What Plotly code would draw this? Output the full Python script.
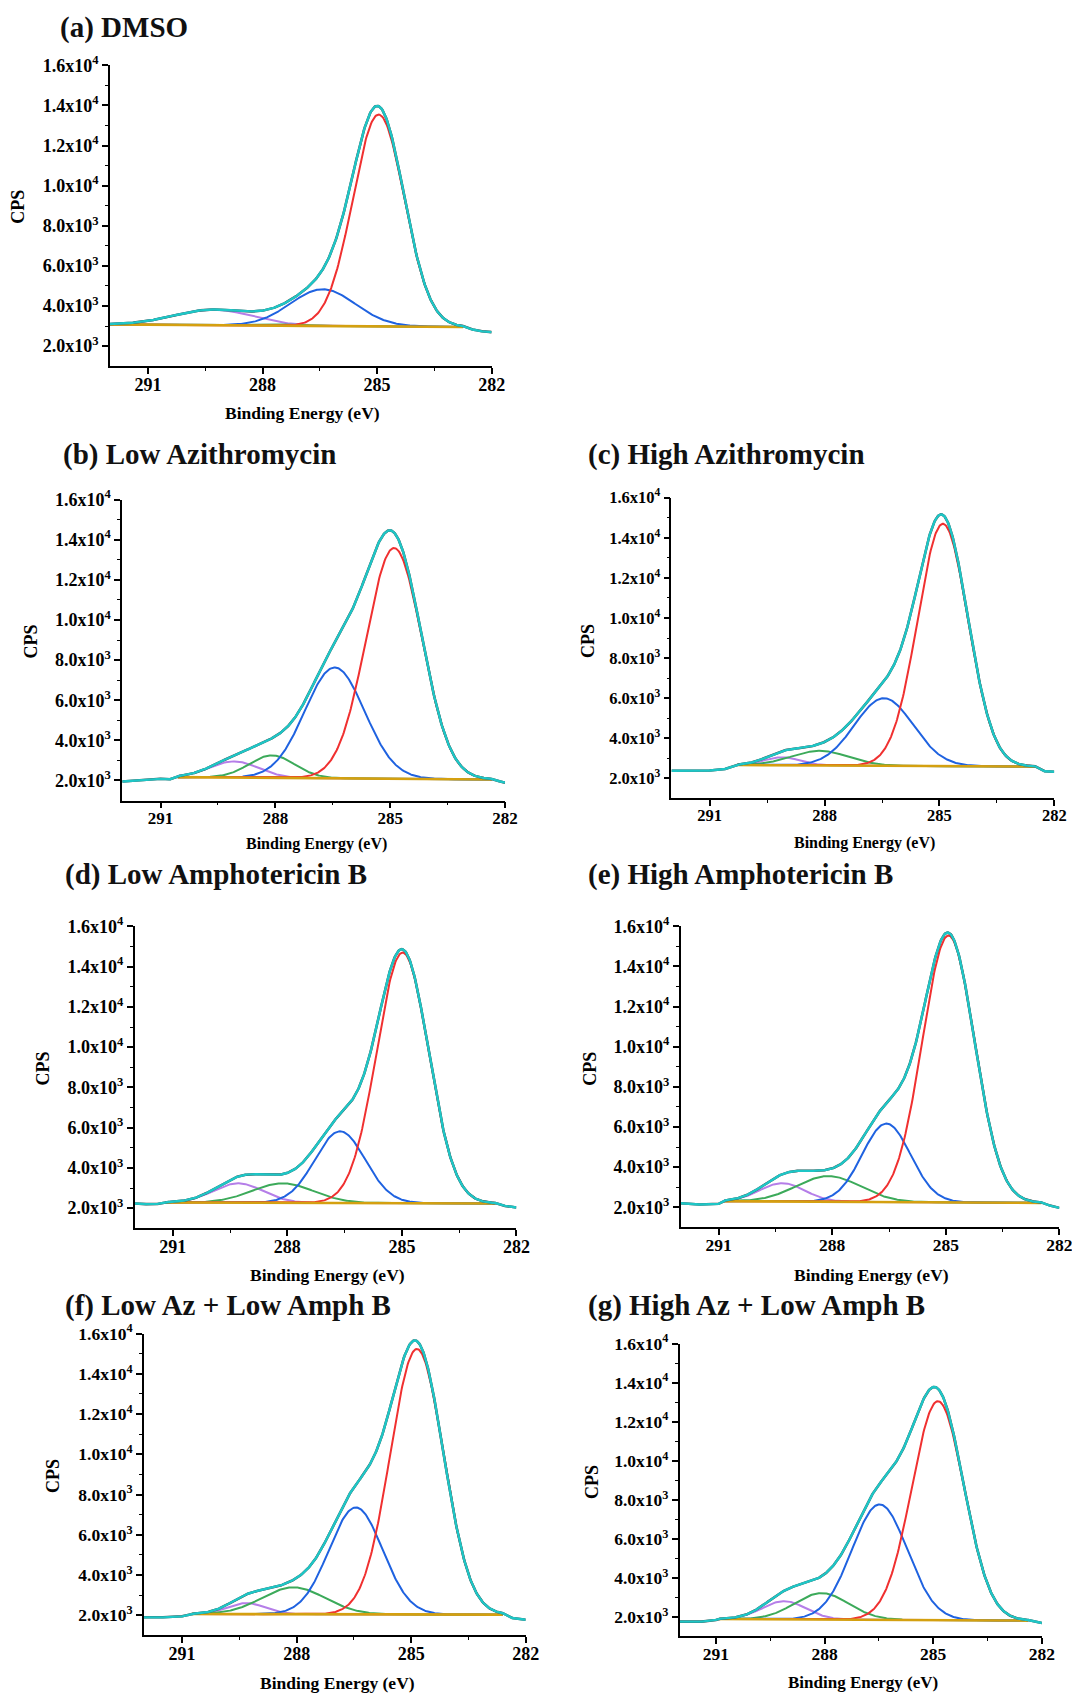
import numpy as np
import plotly.graph_objects as go

# ---------------- data ----------------
panel_titles = ["(a) DMSO", "(b) Low Azithromycin", "(c) High Azithromycin",
                "(d) Low Amphotericin B", "(e) High Amphotericin B",
                "(f) Low Az + Low Amph B", "(g) High Az + Low Amph B"]

# fitted components (binding energy centre in eV, height above baseline in CPS, FWHM in eV)
purple_center = [289.30, 289.08, 289.11, 289.29, 289.32, 289.32, 289.12]
purple_height = [772, 806, 400, 961, 915, 550, 930]
purple_fwhm = [2.40, 1.50, 1.10, 1.53, 1.40, 1.15, 1.42]

green_center = [287.90, 288.09, 288.12, 288.12, 288.10, 288.08, 288.08]
green_height = [80, 1120, 730, 968, 1280, 1335, 1350]
green_fwhm = [1.40, 1.40, 1.75, 1.90, 1.98, 1.94, 1.76]

blue_center = [286.42, 286.45, 286.45, 286.62, 286.57, 286.45, 286.48]
blue_height = [1830, 5525, 3370, 3560, 3910, 5310, 5910]
blue_fwhm = [2.00, 1.84, 1.80, 1.55, 1.50, 1.65, 1.80]

red_center = [284.96, 284.90, 284.91, 284.98, 284.93, 284.85, 284.87]
red_height = [10560, 11500, 12080, 12453, 13300, 13190, 11210]
red_fwhm = [1.58, 1.72, 1.55, 1.60, 1.62, 1.64, 1.70]

# linear baseline end points
base_x0 = [292.00, 290.55, 290.28, 291.20, 290.85, 290.75, 290.92]
base_y0 = [3085, 2165, 2667, 2283, 2300, 2067, 1897]
base_x1 = [282.75, 282.35, 282.50, 282.55, 282.48, 282.60, 282.38]
base_y1 = [2955, 2050, 2590, 2233, 2217, 2033, 1812]

# measured spectrum outside the fitted window
left_x = [[], [292.0, 291.5, 291.0, 290.75], [292.0, 291.5, 291.0, 290.6],
          [292.0, 291.7, 291.4], [292.0, 291.5, 291.0], [292.0, 291.5, 291.0],
          [292.0, 291.4, 291.0]]
left_y = [[], [1950, 2020, 2080, 2060], [2380, 2385, 2395, 2470],
          [2233, 2200, 2210], [2200, 2133, 2167], [1900, 1900, 1950],
          [1760, 1760, 1846]]
right_x = [[282.5, 282.25, 282.0], [282.15, 282.0], [282.25, 282.0],
           [282.3, 282.0], [282.25, 282.0], [282.35, 282.0], [282.0]]
right_y = [[2830, 2740, 2700], [1960, 1890], [2360, 2335],
           [2110, 2033], [2080, 1967], [1867, 1783], [1692]]

# axes ticks
x_tickvals = [291, 288, 285, 282]
x_minor = [289.5, 286.5, 283.5]
y_tickvals = [2000, 4000, 6000, 8000, 10000, 12000, 14000, 16000]
y_ticktext = ["2.0x10<sup>3</sup>", "4.0x10<sup>3</sup>", "6.0x10<sup>3</sup>",
              "8.0x10<sup>3</sup>", "1.0x10<sup>4</sup>", "1.2x10<sup>4</sup>",
              "1.4x10<sup>4</sup>", "1.6x10<sup>4</sup>"]
y_minor = [3000, 5000, 7000, 9000, 11000, 13000, 15000]

# ---------------- layout geometry (target pixels on the photographed page) ----------------
W, H = 1080, 1695
S, OX, OY = 0.99, 7.6, 21.0  # observed page offset / scale of the rendered figure
KX = 1.034                    # horizontal stretch about each column origin
row_dy = [0, -1, -1, -2.5, -2.5, -4.5, -4.5]


def colx(x):
    o = 0 if x < 540 else 540
    return o + (x - o) * KX


def px(x):
    return (colx(x) / S - OX) / W


def py(y, i):
    return 1 - ((y + row_dy[i]) / S - OY) / H


boxes = [(106, 476, 66, 366), (118, 489, 500, 800), (668, 1039, 498, 798),
         (130, 500, 927, 1228), (677, 1044, 927, 1227), (139, 509, 1335, 1636),
         (676, 1027, 1345, 1637)]
title_pos = [(56, 28), (59, 455), (585, 455), (61, 875), (585, 875), (61, 1307), (585, 1307)]
cps_pos = [(17, 207), (30, 641), (587, 641), (41, 1069), (589, 1069), (51, 1477), (591, 1483)]
xt_pos = [(293, 413), (306, 843), (855, 842), (317, 1275), (862, 1275), (327, 1683), (854, 1683)]
xt_size = [17.5, 16, 16, 17.5, 17.5, 17.5, 17]
ytick_size = [18, 18, 16.5, 18, 18, 17.5, 17.5]
xtick_size = [18, 17, 16.5, 18, 17.5, 18, 17.5]

FONT = "Liberation Serif, Times New Roman, serif"
C_RAW = "#454545"
C_ENV = "#1ec6c6"
C_RED = "#f03030"
C_BLUE = "#1f62e0"
C_GREEN = "#3caa5a"
C_PURPLE = "#b57ee8"
C_BASE = "#d4a010"


def peak(x, c, h, w):
    return h * np.exp(-4 * np.log(2) * (x - c) ** 2 / w ** 2)


fig = go.Figure()
annotations = []
layout_axes = {}

for i in range(7):
    xa = "x" if i == 0 else f"x{i+1}"
    ya = "y" if i == 0 else f"y{i+1}"
    xs = np.linspace(base_x0[i], base_x1[i], 400)
    base = base_y0[i] + (base_y1[i] - base_y0[i]) * (xs - base_x0[i]) / (base_x1[i] - base_x0[i])
    comps = [
        (purple_center[i], purple_height[i], purple_fwhm[i], C_PURPLE),
        (green_center[i], green_height[i], green_fwhm[i], C_GREEN),
        (blue_center[i], blue_height[i], blue_fwhm[i], C_BLUE),
        (red_center[i], red_height[i], red_fwhm[i], C_RED),
    ]
    env = base.copy()
    for c, h, w, col in comps:
        env = env + peak(xs, c, h, w)

    for c, h, w, col in comps:
        fig.add_trace(go.Scatter(x=xs, y=base + peak(xs, c, h, w), mode="lines",
                                 xaxis=xa, yaxis=ya, line=dict(color=col, width=2),
                                 showlegend=False))
    fig.add_trace(go.Scatter(x=xs, y=base, mode="lines", xaxis=xa, yaxis=ya,
                             line=dict(color=C_BASE, width=2.6), showlegend=False))
    ex = list(left_x[i]) + list(xs) + list(right_x[i])
    ey = list(left_y[i]) + list(env) + list(right_y[i])
    fig.add_trace(go.Scatter(x=ex, y=ey, mode="lines", xaxis=xa, yaxis=ya,
                             line=dict(color=C_RAW, width=2.55), showlegend=False))
    fig.add_trace(go.Scatter(x=ex, y=ey, mode="lines", xaxis=xa, yaxis=ya,
                             line=dict(color=C_ENV, width=2.4), showlegend=False))

    l, r, t, b = boxes[i]
    layout_axes["xaxis" if i == 0 else f"xaxis{i+1}"] = dict(
        domain=[px(l), px(r)], anchor=ya, range=[292, 282],
        tickmode="array", tickvals=x_tickvals,
        ticktext=[f"<b>{v}</b>" for v in x_tickvals],
        ticks="outside", ticklen=6, tickwidth=1.5, tickcolor="black",
        ticklabelstandoff=-5,
        showline=True, linewidth=1.6, linecolor="black",
        showgrid=False, zeroline=False,
        tickfont=dict(family=FONT, size=xtick_size[i], color="black"),
        minor=dict(tickmode="array", tickvals=x_minor, ticks="outside", ticklen=3,
                   tickwidth=1.2, tickcolor="black", showgrid=False),
    )
    layout_axes["yaxis" if i == 0 else f"yaxis{i+1}"] = dict(
        domain=[py(b, i), py(t, i)], anchor=xa, range=[1000, 16000],
        tickmode="array", tickvals=y_tickvals,
        ticktext=[f"<b>{s}</b>" for s in y_ticktext],
        ticks="outside", ticklen=6, tickwidth=1.5, tickcolor="black",
        showline=True, linewidth=1.6, linecolor="black",
        showgrid=False, zeroline=False,
        tickfont=dict(family=FONT, size=ytick_size[i], color="black"),
        minor=dict(tickmode="array", tickvals=y_minor, ticks="outside", ticklen=3,
                   tickwidth=1.2, tickcolor="black", showgrid=False),
    )

    tx, ty = title_pos[i]
    annotations.append(dict(text=f"<b>{panel_titles[i]}</b>", xref="paper", yref="paper",
                            x=px(tx), y=py(ty, i), xanchor="left", yanchor="middle",
                            showarrow=False, font=dict(family=FONT, size=29, color="#111111")))
    cx, cy = cps_pos[i]
    annotations.append(dict(text="<b>CPS</b>", xref="paper", yref="paper",
                            x=px(cx), y=py(cy, i), xanchor="center", yanchor="middle",
                            textangle=-90, showarrow=False,
                            font=dict(family=FONT, size=18, color="black")))
    bx, by = xt_pos[i]
    annotations.append(dict(text="<b>Binding Energy (eV)</b>", xref="paper", yref="paper",
                            x=px(bx), y=py(by, i), xanchor="center", yanchor="middle",
                            showarrow=False,
                            font=dict(family=FONT, size=xt_size[i], color="black")))

fig.update_layout(width=W, height=H, margin=dict(l=0, r=0, t=0, b=0),
                  paper_bgcolor="white", plot_bgcolor="white",
                  annotations=annotations, showlegend=False, **layout_axes)

fig.write_html("out.html")
